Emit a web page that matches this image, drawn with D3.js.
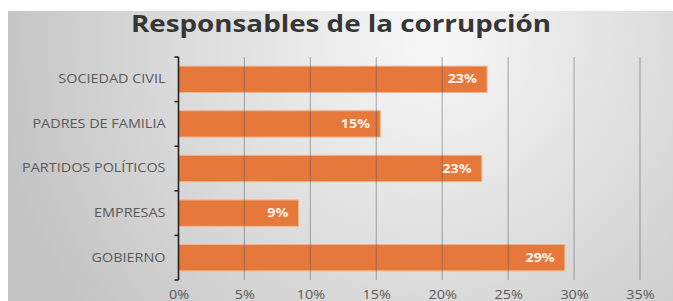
<!DOCTYPE html>
<html>
<head>
<meta charset="utf-8">
<script src="https://cdn.jsdelivr.net/npm/d3@7"></script>
<style>
  html, body { margin: 0; padding: 0; background: #ffffff; }
  svg { display: block; }
</style>
</head>
<body>
<svg id="chart" width="673" height="301"></svg>
<script>
const categories = ["SOCIEDAD CIVIL", "PADRES DE FAMILIA", "PARTIDOS POLÍTICOS", "EMPRESAS", "GOBIERNO"];
const values = [23.4, 15.3, 23.0, 9.1, 29.3];
const valueLabels = ["23%", "15%", "23%", "9%", "29%"];
const xTicks = [0, 5, 10, 15, 20, 25, 30, 35];
const title = "Responsables de la corrupción";

const svg = d3.select("#chart");
const W = 673, H = 301;
const FONT = "'Open Sans', 'Noto Sans', sans-serif";
const SX = 1.2; // horizontal stretch of the original raster

function stretch(sel, factor) {
  sel.each(function () {
    const w = this.getComputedTextLength();
    d3.select(this).attr("textLength", w * factor).attr("lengthAdjust", "spacingAndGlyphs");
  });
}

const defs = svg.append("defs");
const grad = defs.append("radialGradient")
  .attr("id", "bg")
  .attr("gradientUnits", "userSpaceOnUse")
  .attr("cx", 430).attr("cy", 40).attr("r", 440);
grad.append("stop").attr("offset", 0).attr("stop-color", "#f8f8f8");
grad.append("stop").attr("offset", 0.55).attr("stop-color", "#dcdcdc");
grad.append("stop").attr("offset", 1).attr("stop-color", "#c4c4c4");

svg.append("rect").attr("x", 8).attr("y", 11).attr("width", W - 8).attr("height", H - 11)
  .attr("fill", "url(#bg)");

const margin = { left: 178.5, right: 33, top: 57, bottom: 21 };
const x = d3.scaleLinear().domain([0, 35]).range([margin.left, W - margin.right]);
const y = d3.scaleBand().domain(categories).range([margin.top, H - margin.bottom]).paddingInner(0.41).paddingOuter(0.205);

const t = svg.append("text")
  .attr("x", 341).attr("y", 32)
  .attr("text-anchor", "middle")
  .attr("font-family", FONT)
  .attr("font-weight", "bold")
  .attr("font-size", 24)
  .attr("fill", "#363636")
  .text(title);
t.attr("textLength", 420).attr("lengthAdjust", "spacingAndGlyphs");

// bars
const data = categories.map((c, i) => ({ c, v: values[i], l: valueLabels[i] }));
svg.append("g").selectAll("rect").data(data).join("rect")
  .attr("x", x(0))
  .attr("y", d => y(d.c))
  .attr("width", d => x(d.v) - x(0))
  .attr("height", y.bandwidth())
  .attr("fill", "#e5783a")
  .attr("stroke", "#f2b58a")
  .attr("stroke-width", 1);

// gridlines on top, semi-transparent
const gridG = svg.append("g");
gridG.selectAll("line").data(xTicks.slice(1)).join("line")
  .attr("x1", d => x(d)).attr("x2", d => x(d))
  .attr("y1", margin.top).attr("y2", H - margin.bottom)
  .attr("stroke", "#555")
  .attr("stroke-opacity", 0.42)
  .attr("stroke-width", 1.2);

// value labels
svg.append("g").selectAll("text").data(data).join("text")
  .attr("x", d => x(d.v) - 10)
  .attr("y", d => y(d.c) + y.bandwidth() / 2 + 4)
  .attr("text-anchor", "end")
  .attr("font-family", FONT)
  .attr("font-weight", "bold")
  .attr("font-size", 11.5)
  .attr("fill", "#fdf3e8")
  .text(d => d.l)
  .call(stretch, 1.25);

// y axis
const yAxis = d3.axisLeft(y).tickSize(0).tickPadding(13);
const yg = svg.append("g").attr("transform", `translate(${x(0)},0)`).call(yAxis);
yg.select(".domain").attr("stroke", "#222").attr("stroke-width", 1.6);
yg.selectAll("text")
  .attr("font-family", FONT)
  .attr("font-size", 12)
  .attr("font-weight", 500)
  .attr("fill", "#595959")
  .call(stretch, SX);
// boundary ticks
const step = y.step();
const bounds = d3.range(categories.length + 1).map(i => margin.top + i * step);
yg.append("g").selectAll("line").data(bounds).join("line")
  .attr("x1", -4).attr("x2", 0)
  .attr("y1", d => d).attr("y2", d => d)
  .attr("stroke", "#222").attr("stroke-width", 1.6);
yg.select(".domain").attr("d", `M0,${margin.top}V${H - margin.bottom}`);

// x axis labels
const xAxis = d3.axisBottom(x).tickValues(xTicks).tickFormat(d => d + "%").tickSize(0).tickPadding(0);
const xg = svg.append("g").attr("transform", `translate(0,${H - margin.bottom})`).call(xAxis);
xg.select(".domain").remove();
xg.selectAll("text")
  .attr("dy", 0)
  .attr("y", 19)
  .attr("font-family", FONT)
  .attr("font-size", 12)
  .attr("fill", "#595959")
  .call(stretch, SX);
</script>
</body>
</html>
